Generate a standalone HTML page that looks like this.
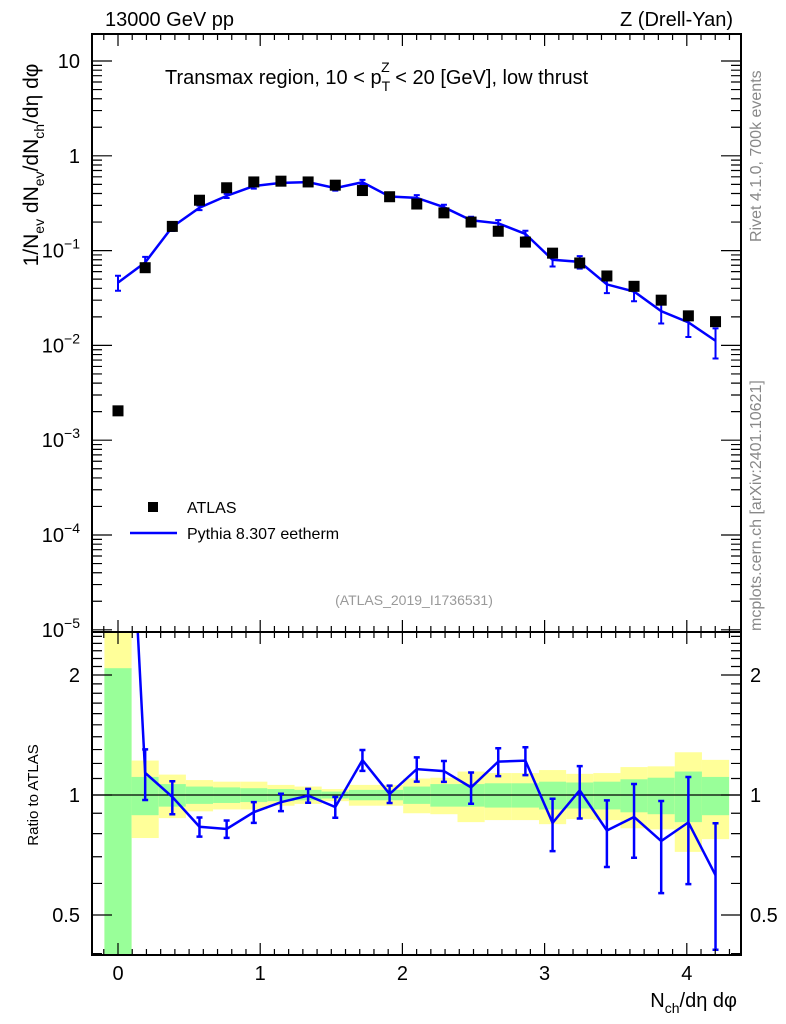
<!DOCTYPE html>
<html><head><meta charset="utf-8"><style>
body{margin:0;background:#fff;}
svg{display:block;font-family:"Liberation Sans",sans-serif;}
</style></head><body>
<svg id="chart" width="786" height="1024" viewBox="0 0 786 1024">
<g id="ratio-bands"></g>
<g id="main"></g>
<g id="ratio"></g>
<g id="axes"></g>
<text x="105" y="26" font-size="20">13000 GeV pp</text>
<text x="733" y="26" font-size="20" text-anchor="end">Z (Drell-Yan)</text>
<text x="165" y="84" font-size="20">Transmax region, 10 &lt; p<tspan font-size="14" dy="7">T</tspan><tspan font-size="14" dx="-9" dy="-19">Z</tspan><tspan dy="12"> &lt; 20 [GeV], low thrust</tspan></text>
<text transform="translate(38,165) rotate(-90)" font-size="21" text-anchor="middle">1/N<tspan font-size="14" dy="6">ev</tspan><tspan dy="-6"> dN</tspan><tspan font-size="14" dy="6">ev</tspan><tspan dy="-6">/dN</tspan><tspan font-size="14" dy="6">ch</tspan><tspan dy="-6">/dη dφ</tspan></text>
<text transform="translate(38,795) rotate(-90)" font-size="15" text-anchor="middle">Ratio to ATLAS</text>
<text x="737" y="1007" font-size="20" text-anchor="end">N<tspan font-size="14" dy="6">ch</tspan><tspan dy="-6">/dη dφ</tspan></text>
<text transform="translate(761,242) rotate(-90)" font-size="16" fill="#888">Rivet 4.1.0,  700k events</text>
<text transform="translate(761,631) rotate(-90)" font-size="16" fill="#888">mcplots.cern.ch [arXiv:2401.10621]</text>
<text x="414" y="605" font-size="14" fill="#999" text-anchor="middle">(ATLAS_2019_I1736531)</text>
<rect x="148" y="502" width="10" height="10" fill="#000"/>
<text x="187" y="513" font-size="16">ATLAS</text>
<line x1="130" y1="533" x2="177" y2="533" stroke="#0000ff" stroke-width="2.5"/>
<text x="187" y="539" font-size="16">Pythia 8.307 eetherm</text>
</svg>
<script>
const xValues=[0,0.191,0.382,0.573,0.764,0.955,1.146,1.337,1.528,1.719,1.91,2.101,2.292,2.483,2.674,2.865,3.056,3.247,3.438,3.629,3.82,4.011,4.202];
const atlasValues=[0.00204,0.066,0.18,0.34,0.46,0.53,0.54,0.53,0.49,0.43,0.37,0.31,0.25,0.20,0.16,0.123,0.094,0.074,0.054,0.042,0.030,0.0205,0.0178];
const mcValues=[0.046,0.075,0.178,0.283,0.378,0.480,0.518,0.528,0.457,0.526,0.372,0.360,0.287,0.209,0.194,0.150,0.080,0.076,0.044,0.037,0.023,0.0175,0.0112];
const mcErr=[0.18,0.145,0.095,0.055,0.05,0.06,0.05,0.04,0.06,0.06,0.05,0.07,0.06,0.09,0.08,0.08,0.15,0.15,0.19,0.21,0.26,0.30,0.35];
const statErr=[1.08,0.11,0.065,0.05,0.045,0.04,0.035,0.03,0.02,0.03,0.03,0.05,0.065,0.065,0.07,0.07,0.08,0.075,0.08,0.095,0.105,0.145,0.11];
const totErr=[1.6,0.22,0.125,0.09,0.08,0.08,0.06,0.05,0.035,0.06,0.06,0.10,0.105,0.145,0.135,0.135,0.155,0.13,0.135,0.175,0.18,0.28,0.225];
const xTicks=[0,1,2,3,4];
const yTicks=[-5,-4,-3,-2,-1,0,1];
const rTicks=[0.5,1,2];

const NS="http://www.w3.org/2000/svg";
const L=92,R=741,T=34,M=632,B=955;
const X=v=>118+(v)*142.2;
const Y=v=>61+(1-Math.log10(v))*94.8;
const RY=v=>795-Math.log10(v)*398.7;
function mk(p,tag,a){const e=document.createElementNS(NS,tag);for(const k in a)e.setAttribute(k,a[k]);p.appendChild(e);return e;}
const gm=document.getElementById('main'),gr=document.getElementById('ratio'),gb=document.getElementById('ratio-bands'),ga=document.getElementById('axes');
const clampR=v=>Math.max(M,Math.min(B,v));
const hw=0.0955;
for(let i=0;i<xValues.length;i++){
  const x1=X(xValues[i]-hw),x2=X(xValues[i]+hw);
  const yt=clampR(RY(1+totErr[i])),yb=clampR(1-totErr[i]>0?RY(1-totErr[i]):B);
  const y=mk(gb,'rect',{x:x1,y:yt,width:x2-x1,height:yb-yt,fill:'#ffff99'});
  
  
  const st=clampR(RY(1+statErr[i])),sb=clampR(1-statErr[i]>0?RY(1-statErr[i]):B);
  const g=mk(gb,'rect',{x:x1,y:st,width:x2-x1,height:sb-st,fill:'#99ff99'});
  
  
}
mk(gb,'line',{x1:L,x2:R,y1:RY(1),y2:RY(1),stroke:'#000','stroke-width':1.2});
const cp=mk(gr,'clipPath',{id:'rc'});mk(cp,'rect',{x:L,y:M,width:R-L,height:B-M});
const rg=mk(gr,'g',{'clip-path':'url(#rc)'});
let pts=xValues.map((x,i)=>X(x)+','+RY(mcValues[i]/atlasValues[i])).join(' ');
const rl=mk(rg,'polyline',{points:pts,fill:'none',stroke:'#0000ff','stroke-width':2.5});


for(let i=1;i<xValues.length;i++){
  const r=mcValues[i]/atlasValues[i],x=X(xValues[i]);
  const y1=RY(r*(1+mcErr[i])),y2=RY(Math.max(0.01,r*(1-mcErr[i])));
  const e=mk(rg,'path',{d:`M${x},${y1}V${y2}M${x-3},${y1}h6M${x-3},${y2}h6`,stroke:'#0000ff','stroke-width':2.5,fill:'none'});
  
  
}
pts=xValues.map((x,i)=>X(x)+','+Y(mcValues[i])).join(' ');
const ml=mk(gm,'polyline',{points:pts,fill:'none',stroke:'#0000ff','stroke-width':2.5});


for(let i=0;i<xValues.length;i++){
  const x=X(xValues[i]),y1=Y(mcValues[i]*(1+mcErr[i])),y2=Y(mcValues[i]*(1-mcErr[i]));
  const e=mk(gm,'path',{d:`M${x},${y1}V${y2}M${x-3},${y1}h6M${x-3},${y2}h6`,stroke:'#0000ff','stroke-width':2,fill:'none'});
  
  
  const p=mk(gm,'rect',{x:x-5.5,y:Y(atlasValues[i])-5.5,width:11,height:11,fill:'#000'});
  
  
}
for(const [t,b] of [[T,M],[M,B]]){
  const f=mk(ga,'rect',{x:L,y:t,width:R-L,height:b-t,fill:'none',stroke:'#000','stroke-width':2});
  
  
}
let d='';
for(let k=-1;k<=43;k++){const v=k/10;const x=X(v);if(x<L+1||x>R-1)continue;const len=(k%10===0)?12:6;
  for(const [t,b] of [[T,M],[M,B]]){d+=`M${x},${t}v${len}M${x},${b}v${-len}`;}}
for(let e=-5;e<=1;e++)for(let m=1;m<10;m++){const y=Y(m*Math.pow(10,e));if(y<T+1||y>M-1)continue;const len=m===1?20:10;d+=`M${L},${y}h${len}M${R},${y}h${-len}`;}
const rmin=[0.4,0.5,0.6,0.7,0.8,0.9,1,2];
for(const v of rmin){const y=RY(v);const len=(v===0.5||v===1||v===2)?20:10;d+=`M${L},${y}h${len}M${R},${y}h${-len}`;}
for(let v=1.1;v<2.56;v+=0.1){if(Math.abs(v-2)<0.01)continue;const y=RY(v);d+=`M${L},${y}h10M${R},${y}h-10`;}
const tk=mk(ga,'path',{d:d,stroke:'#000','stroke-width':1.2,fill:'none'});


for(const v of xTicks){const t=mk(ga,'text',{x:X(v),y:980,'font-size':20,'text-anchor':'middle'});t.textContent=v;
  
  }
for(const e of yTicks){const t=mk(ga,'text',{x:80,y:Y(Math.pow(10,e))+7,'font-size':20,'text-anchor':'end'});
  
  
  if(e===0)t.textContent='1';else if(e===1)t.textContent='10';else{t.textContent='10';const s=mk(t,'tspan',{dy:-9,'font-size':14});s.textContent='\u2212'+(-e);}}
for(const v of rTicks){for(const [x,a] of [[80,'end'],[750,'start']]){const t=mk(ga,'text',{x:x,y:RY(v)+7,'font-size':20,'text-anchor':a});t.textContent=v;
  
  }}
</script>
</body></html>
